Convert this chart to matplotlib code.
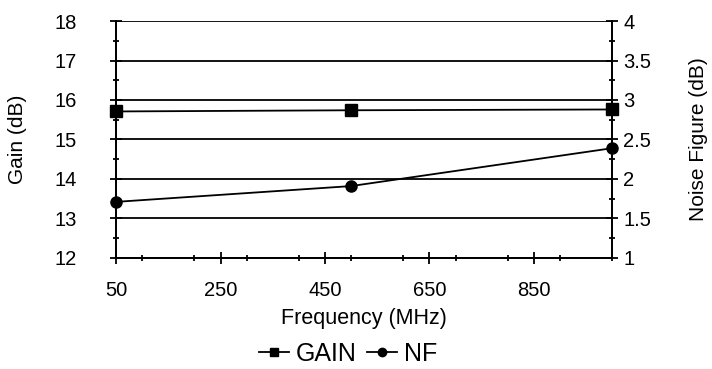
import numpy as np
import matplotlib.pyplot as plt
from matplotlib.ticker import MultipleLocator

plt.rcParams['font.family'] = ['Liberation Sans', 'DejaVu Sans']

freq = [50, 500, 1000]
gain = [15.71, 15.74, 15.76]
nf = [1.71, 1.91, 2.39]

fig = plt.figure(figsize=(7.12, 3.69), dpi=100)
ax = fig.add_axes([0.163, 0.301, 0.697, 0.642])
ax2 = ax.twinx()

ax.set_xlim(50, 1000)
ax.set_ylim(12, 18)
ax2.set_ylim(1, 4)

ax.set_xticks([50, 250, 450, 650, 850])
ax.xaxis.set_minor_locator(MultipleLocator(100))
ax.yaxis.set_major_locator(MultipleLocator(1))
ax.yaxis.set_minor_locator(MultipleLocator(0.5))
ax2.set_yticks([1, 1.5, 2, 2.5, 3, 3.5, 4])
ax2.set_yticklabels(['1', '1.5', '2', '2.5', '3', '3.5', '4'])
ax2.yaxis.set_minor_locator(MultipleLocator(0.25))

ax.spines['top'].set_visible(False)
ax2.spines['top'].set_visible(False)
for a in (ax, ax2):
    for s in a.spines.values():
        s.set_linewidth(1.3)
ax.yaxis.grid(True, which='major', color='black', lw=1.3)
ax.set_axisbelow(True)

for a in (ax, ax2):
    a.tick_params(which='major', direction='inout', length=8.5, width=1.3, labelsize=14.5)
    a.tick_params(which='minor', direction='inout', length=5, width=1.3)
ax.tick_params(axis='x', which='major', pad=12)
ax.tick_params(axis='y', which='major', pad=24)
ax2.tick_params(axis='y', which='major', pad=3.5)

l1, = ax.plot(freq, gain, color='black', lw=1.3, marker='s', ms=8, clip_on=False, zorder=5, label='GAIN')
l2, = ax2.plot(freq, nf, color='black', lw=1.3, marker='o', ms=8, clip_on=False, zorder=5, label='NF')

ax.set_xlabel('Frequency (MHz)', fontsize=15.5)
ax.set_ylabel('Gain (dB)', fontsize=15)
ax2.set_ylabel('Noise Figure (dB)', fontsize=15)
ax.xaxis.set_label_coords(0.5, -0.21)
ax.yaxis.set_label_coords(-0.18, 0.5)
ax2.yaxis.set_label_coords(1.155, 0.5)

fig.legend(handles=[l1, l2], loc='center', bbox_to_anchor=(0.489, 0.04), ncol=2, frameon=False,
           fontsize=18, handlelength=1.2, handletextpad=0.3, columnspacing=0.4, markerscale=0.75,
           borderpad=0, borderaxespad=0)

fig.savefig('out.png', dpi=100)
